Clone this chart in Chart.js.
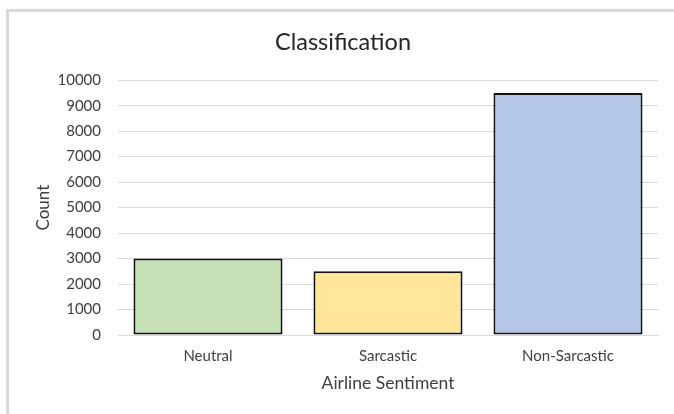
<!DOCTYPE html>
<html>
<head>
<meta charset="utf-8">
<script src="https://cdn.jsdelivr.net/npm/chart.js@4/dist/chart.umd.min.js"></script>
<style>
  html, body { margin: 0; padding: 0; background: #ffffff; overflow: hidden; }
  #frame {
    position: absolute; left: 6px; top: 9px; width: 800px; height: 600px;
    border-left: 3px solid #dadada; border-top: 3px solid #dadada;
    box-sizing: border-box;
  }
  #wrap { position: absolute; left: 0; top: 0; width: 674px; height: 414px; }
</style>
</head>
<body>
<div id="frame"></div>
<div id="wrap"><canvas id="chart" width="674" height="414"></canvas></div>
<script>
// Sentiment classes and their counts
const categories = ['Neutral', 'Sarcastic', 'Non-Sarcastic'];
const counts = [3000, 2500, 9500];
const yMin = 0;
const yMax = 10000;
const yStep = 1000;

const chartTitle = 'Classification';
const xTitle = 'Airline Sentiment';
const yTitle = 'Count';

const fillColors = ['#c5e0b4', '#ffe699', '#b4c7e7'];

const FONT = 'Lato, "Open Sans", sans-serif';

new Chart(document.getElementById('chart'), {
  type: 'bar',
  data: {
    labels: categories,
    datasets: [{
      data: counts,
      backgroundColor: fillColors,
      borderColor: '#111111',
      borderWidth: 2,
      borderSkipped: false,
      categoryPercentage: 1.0,
      barPercentage: 0.828
    }]
  },
  options: {
    responsive: false,
    animation: false,
    devicePixelRatio: 1,
    layout: { padding: { left: 28, right: 16, top: 0, bottom: 0 } },
    plugins: {
      legend: { display: false },
      tooltip: { enabled: false },
      title: {
        display: true,
        text: chartTitle,
        color: '#262626',
        font: { family: FONT, size: 23.5, weight: 'normal', lineHeight: 1.2 },
        padding: { top: 28, bottom: 24 }
      }
    },
    scales: {
      x: {
        grid: { display: false, drawTicks: false },
        border: { display: true, color: '#d9d9d9', width: 1 },
        ticks: {
          color: '#404040',
          font: { family: FONT, size: 15, lineHeight: 1.2 },
          padding: 12,
          maxRotation: 0
        },
        title: {
          display: true,
          text: xTitle,
          color: '#404040',
          font: { family: FONT, size: 17.5, lineHeight: 1.2 },
          padding: { top: 0, bottom: 20 }
        },
        afterFit: (scale) => { scale.height = 79; }
      },
      y: {
        min: yMin,
        max: yMax,
        grid: { color: '#d9d9d9', lineWidth: 1, drawTicks: false },
        border: { display: false },
        ticks: {
          stepSize: yStep,
          color: '#404040',
          font: { family: FONT, size: 15, lineHeight: 1.2 },
          padding: 17,
          callback: (value) => String(value)
        },
        title: {
          display: true,
          text: yTitle,
          color: '#404040',
          font: { family: FONT, size: 17, lineHeight: 1.2 },
          padding: { top: 5, bottom: 0 }
        },
        afterFit: (scale) => { scale.width = 90; }
      }
    }
  }
});
</script>
</body>
</html>
